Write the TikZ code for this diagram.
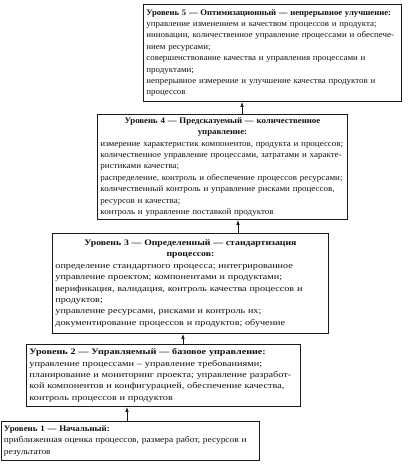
\documentclass[tikz,border=0pt]{standalone}
\usepackage{fontspec}
\setmainfont{Liberation Serif}
\usetikzlibrary{positioning, arrows.meta}
\definecolor{cLine}{HTML}{1A1A1A}
\definecolor{cText}{HTML}{111111}
% body and title widths differ from box to box in the scan
\newcommand\lvlfont[2]{\fontspec{Liberation Serif}[FakeStretch=#1,
  BoldFeatures={FakeStretch=#2}]\fontsize{8.4}{11.4}\selectfont}

\begin{document}
\begin{tikzpicture}[x=1pt, y=-1pt,
  lvlbox/.style={draw=cLine, line width=0.9pt, anchor=north west, inner xsep=3pt,
    inner ysep=2pt, align=left, text=cText},
  upar/.style={-{Latex[length=5pt, width=3.5pt]}, line width=0.7pt, draw=cLine},
]
\useasboundingbox (0,0) rectangle (409,468);

% levels, from top to bottom
\node[lvlbox, font=\lvlfont{1.06}{1.03}, text width=252pt, minimum height=97pt] (lvl5) at (143,4) {%
  \mbox{\textbf{Уровень 5 — Оптимизационный — непрерывное улучшение:}}\\
  управление изменением и качеством процессов и продукта;\\
  инновации, количественное управление процессами и обеспече-\\
  нием ресурсами;\\
  совершенствование качества и управления процессами и\\
  продуктами;\\
  непрерывное измерение и улучшение качества продуктов и\\
  процессов};
\node[lvlbox, font=\lvlfont{1.07}{1.05}, text width=244pt, minimum height=105pt] (lvl4) at (97,114) {%
  {\centering\bfseries Уровень 4 — Предсказуемый — количественное\\ управление:\par}
  измерение характеристик компонентов, продукта и процессов;\\
  количественное управление процессами, затратами и  характе-\\
  ристиками качества;\\
  распределение, контроль  и обеспечение процессов ресурсами;\\
  количественный контроль и управление рисками процессов,\\
  ресурсов и качества;\\
  контроль и управление поставкой продуктов};
\node[lvlbox, font=\lvlfont{1.21}{1.16}, text width=270pt, minimum height=100pt] (lvl3) at (52,233) {%
  {\centering\bfseries Уровень 3 — Определенный — стандартизация\\ процессов:\par}
  определение стандартного процесса; интегрированное\\
  управление проектом; компонентами и продуктами;\\
  верификация, валидация, контроль качества процессов и\\
  продуктов;\\
  управление  ресурсами, рисками и контроль  их;\\
  документирование процессов и продуктов; обучение};
\node[lvlbox, font=\lvlfont{1.22}{1.21}, text width=268pt, minimum height=62pt] (lvl2) at (26,344) {%
  \textbf{Уровень 2 — Управляемый — базовое управление:}\\
  управление процессами –  управление  требованиями;\\
  планирование и мониторинг проекта; управление разработ-\\
  кой компонентов и конфигурацией, обеспечение качества,\\
  контроль процессов и продуктов};
\node[lvlbox, font=\lvlfont{1.12}{1.06}, text width=252pt, minimum height=39pt] (lvl1) at (0.5,421) {%
  \textbf{Уровень 1 — Начальный:}\\
  \mbox{приближенная оценка процессов,  размера работ, ресурсов и}\\
  результатов};

% arrows between levels
\coordinate (a12) at (127,0);
\coordinate (a23) at (183,0);
\coordinate (a34) at (238,0);
\coordinate (a45) at (242,0);
\draw[upar] (lvl1.north -| a12) -- (lvl2.south -| a12);
\draw[upar] (lvl2.north -| a23) -- (lvl3.south -| a23);
\draw[upar] (lvl3.north -| a34) -- (lvl4.south -| a34);
\draw[upar] (lvl4.north -| a45) -- (lvl5.south -| a45);
\end{tikzpicture}
\end{document}
